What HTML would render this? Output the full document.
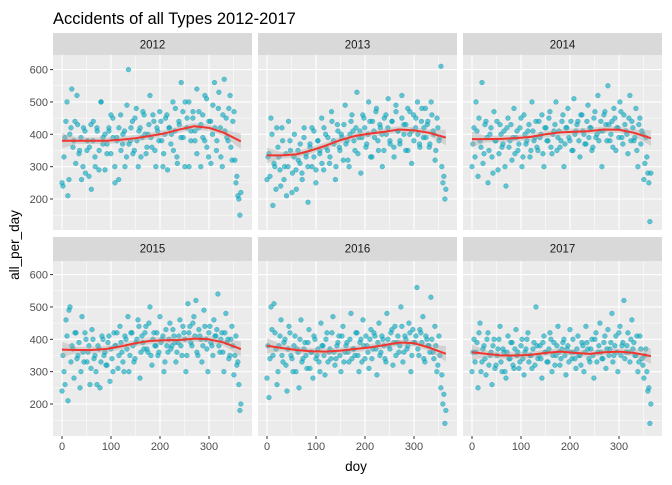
<!DOCTYPE html>
<html><head><meta charset="utf-8">
<style>
body{margin:0;background:#fff;}
svg text{font-family:"Liberation Sans",Arial,sans-serif;}
</style></head>
<body>
<svg id="chart" width="672" height="480" xmlns="http://www.w3.org/2000/svg">
<rect width="672" height="480" fill="#fff"/>
<text x="53" y="24" font-size="16.5" fill="#000">Accidents of all Types 2012-2017</text>
<text x="356" y="471" font-size="13.5" text-anchor="middle" fill="#000">doy</text>
<text transform="translate(19,245) rotate(-90)" font-size="13.5" text-anchor="middle" fill="#000">all_per_day</text>
<g id="panels"></g>
</svg>
<script>
const years = ["2012","2013","2014","2015","2016","2017"];
const pts2012 = [250,330,440,210,400,540,380,310,430,350,260,420,280,380,360,230,440,300,410,350,500,390,290,370,420,340,450,300,390,260,460,370,410,330,600,380,440,350,480,300,420,390,460,340,400,520,360,440,300,410,470,380,340,450,290,420,400,350,480,310,430,560,390,500,450,300,410,470,380,540,420,300,460,380,510,330,440,400,560,350,480,420,300,570,450,380,520,320,470,250,210,150];
const ptsB2012 = [240,390,500,260,420,360,440,520,340,390,300,410,350,270,430,380,330,420,290,500,370,400,340,410,460,390,250,380,420,350,400,300,490,370,420,340,450,380,410,330,470,400,360,430,390,460,350,420,380,440,300,400,460,420,370,500,410,330,440,390,470,300,420,500,380,450,410,340,470,430,390,520,360,440,310,490,420,380,530,330,460,410,390,480,360,440,320,270,200,220];
const pts2013 = [260,340,450,180,300,420,330,240,380,300,210,440,350,280,400,230,320,370,260,420,330,190,360,300,410,250,380,340,450,290,400,350,310,470,380,260,430,360,400,320,490,380,300,440,410,350,530,390,280,460,420,370,500,330,440,390,480,350,420,300,450,400,510,370,440,330,470,410,380,520,430,350,480,400,310,460,420,500,370,440,390,480,430,360,500,410,320,450,380,610,250,200];
const ptsB2013 = [330,270,400,310,230,360,290,420,260,340,300,380,220,330,290,350,310,280,390,340,300,370,420,330,290,380,350,310,420,360,390,330,440,370,300,410,350,390,430,370,320,400,460,380,420,340,410,390,450,360,400,440,330,410,470,380,430,400,350,460,420,380,440,360,490,410,370,450,400,430,350,470,410,380,450,400,360,480,420,390,440,370,460,400,350,420,390,300,270,230];
const pts2014 = [300,420,500,270,380,560,340,440,250,400,330,470,380,290,430,360,410,240,450,380,320,480,390,350,420,300,460,370,410,330,500,380,440,350,390,460,300,420,380,470,340,410,500,390,360,440,300,420,480,380,350,510,410,440,330,460,400,370,490,420,350,450,390,520,410,300,460,430,550,380,440,480,350,420,500,390,460,410,340,520,440,380,480,300,450,410,260,390,280,130];
const ptsB2014 = [370,330,410,450,360,310,430,390,350,420,280,380,440,340,400,370,300,420,360,430,390,340,410,370,450,330,400,380,430,350,410,390,360,440,400,340,420,380,450,360,400,430,350,410,380,460,370,420,390,440,350,400,430,380,460,410,370,440,390,420,360,470,400,380,440,410,470,380,430,400,360,450,420,390,470,370,430,400,450,380,420,390,350,430,370,400,310,330,250,280];
const pts2015 = [240,300,460,210,500,380,280,420,350,250,470,330,400,360,260,430,340,300,380,250,410,350,320,390,270,340,420,380,310,440,360,300,400,470,350,420,330,390,460,280,410,370,440,360,500,320,420,380,350,470,400,300,430,360,450,380,410,330,390,460,350,420,300,510,440,380,470,520,350,410,330,490,400,300,440,380,460,410,540,360,420,300,480,400,350,440,290,410,330,180];
const ptsB2015 = [350,260,410,490,330,370,420,340,390,300,360,420,330,380,310,400,350,260,370,330,400,360,320,410,370,300,380,420,350,390,330,410,370,300,420,380,340,400,440,360,390,420,370,450,350,400,380,420,360,390,410,330,380,400,370,430,390,360,410,380,440,400,350,420,390,450,410,360,430,400,380,440,370,420,390,350,410,430,380,400,360,420,390,340,400,380,350,320,260,200];
const pts2016 = [280,220,500,350,420,260,380,460,330,400,240,440,350,300,410,370,250,460,340,390,310,430,360,280,400,350,330,450,380,290,420,360,340,470,320,380,410,300,440,360,390,330,480,370,350,420,300,400,460,340,380,310,430,370,410,290,450,360,400,340,480,380,420,320,440,390,360,500,330,410,370,450,300,430,390,560,350,420,470,330,400,380,530,360,440,300,410,250,200,140];
const ptsB2016 = [380,340,430,510,370,300,410,350,390,320,370,420,340,380,300,360,400,330,370,350,390,310,360,410,340,370,300,380,350,400,330,370,420,360,340,390,350,410,330,380,360,400,340,370,420,350,390,330,380,410,360,400,340,420,370,390,350,410,380,330,400,370,430,390,350,410,380,440,360,400,380,420,350,390,410,370,430,390,340,410,380,360,400,340,380,320,350,290,230,180];
const pts2017 = [300,400,360,250,450,330,380,290,420,350,260,400,320,370,440,300,360,280,410,340,390,310,430,360,330,400,290,370,420,350,310,390,500,340,380,280,410,360,330,420,300,390,350,440,320,370,400,290,380,430,340,360,310,410,350,390,300,440,370,330,400,280,420,360,450,340,390,310,430,370,480,350,410,300,440,380,520,360,420,330,460,390,350,300,410,340,280,370,240,140];
const ptsB2017 = [360,330,390,420,300,370,340,400,320,360,380,310,350,400,330,370,300,360,340,390,320,370,350,310,380,340,360,400,330,350,370,320,380,350,340,390,360,330,370,400,350,320,380,360,340,390,350,370,330,360,400,340,370,350,320,380,360,390,340,370,350,400,330,380,360,340,410,370,350,390,330,380,360,420,350,390,340,380,360,400,370,350,410,330,370,320,350,300,250,200];
const smoothDays = [0,30,60,90,120,150,180,210,240,270,300,330,365];
const sm2012 = [380,380,380,380,383,388,395,403,415,425,420,405,378];
const sm2013 = [335,335,338,350,365,382,395,402,408,415,412,405,390];
const sm2014 = [385,385,386,388,392,400,406,408,410,415,414,405,388];
const sm2015 = [368,367,367,370,378,388,395,397,398,402,400,390,370];
const sm2016 = [380,373,367,363,362,365,370,375,382,390,388,375,355];
const sm2017 = [360,355,350,350,352,358,362,358,355,360,362,358,348];
const xTicks = [0,100,200,300];
const yTicks = [200,300,400,500,600];
const allPts = [pts2012,pts2013,pts2014,pts2015,pts2016,pts2017];
const allPtsB = [ptsB2012,ptsB2013,ptsB2014,ptsB2015,ptsB2016,ptsB2017];
const allSm = [sm2012,sm2013,sm2014,sm2015,sm2016,sm2017];

const NS = "http://www.w3.org/2000/svg";
const g = document.getElementById("panels");
function mk(tag, attrs, parent){const e=document.createElementNS(NS,tag);for(const k in attrs)e.setAttribute(k,attrs[k]);parent.appendChild(e);return e;}
const panelX=[53,258,463], panelTop=[55,261], stripTop=[33,237], PW=199, PH=175;
for(let p=0;p<6;p++){
  const col=p%3,row=Math.floor(p/3);
  const x0=panelX[col], y0=panelTop[row];
  const xs=d=>x0+9+d*0.49;
  const ys=v=>(row===0?199:404)-(v-200)*0.3235;
  const pg=mk("g",{},g);
  
  
  const strip=mk("rect",{x:x0,y:stripTop[row],width:PW,height:y0-stripTop[row],fill:"#d9d9d9"},pg);
  
  
  const st=mk("text",{x:x0+PW/2,y:stripTop[row]+15.5,"font-size":"11.5","text-anchor":"middle",fill:"#1a1a1a"},pg);
  st.textContent=years[p];
  
  
  const bg=mk("rect",{x:x0,y:y0,width:PW,height:PH,fill:"#ebebeb"},pg);
  
  
  for(let v=150;v<=650;v+=100){const y=ys(v);if(y>y0&&y<y0+PH)mk("line",{x1:x0,x2:x0+PW,y1:y,y2:y,stroke:"#fff","stroke-width":0.5},pg);}
  for(let d=50;d<=350;d+=100){mk("line",{x1:xs(d),x2:xs(d),y1:y0,y2:y0+PH,stroke:"#fff","stroke-width":0.5},pg);}
  yTicks.forEach(v=>{const y=ys(v);const l=mk("line",{x1:x0,x2:x0+PW,y1:y,y2:y,stroke:"#fff","stroke-width":1.1},pg);
    
    if(col===0){mk("line",{x1:x0-3,x2:x0,y1:y,y2:y,stroke:"#333"},pg);
      const t=mk("text",{x:x0-5,y:y+4,"font-size":"11","text-anchor":"end",fill:"#4d4d4d"},pg);t.textContent=v;
      }});
  xTicks.forEach(d=>{const x=xs(d);const l=mk("line",{x1:x,x2:x,y1:y0,y2:y0+PH,stroke:"#fff","stroke-width":1.1},pg);
    
    if(row===1){mk("line",{x1:x,x2:x,y1:y0+PH,y2:y0+PH+3,stroke:"#333"},pg);
      const t=mk("text",{x:x,y:y0+PH+14,"font-size":"11","text-anchor":"middle",fill:"#4d4d4d"},pg);t.textContent=d;
      }});
  [[allPts[p],0],[allPtsB[p],2]].forEach(([pts,off])=>{
    const n=pts.length;
    pts.forEach((v,i)=>{const d=Math.min(365,off+i*363/(n-1));
      const c=mk("circle",{cx:xs(d),cy:ys(v),r:2.4,fill:"#00a9c0","fill-opacity":0.6,stroke:"#1a8fa5","stroke-opacity":0.6,"stroke-width":0.5},pg);
      
      });
  });
  const sm=allSm[p];
  let up="",dn="";
  smoothDays.forEach((d,i)=>{const w=(i===0||i===smoothDays.length-1)?24:10;up+=(i?"L":"M")+xs(d)+","+ys(sm[i]+w);});
  for(let i=smoothDays.length-1;i>=0;i--){const w=(i===0||i===smoothDays.length-1)?24:10;dn+="L"+xs(smoothDays[i])+","+ys(sm[i]-w);}
  const rib=mk("path",{d:up+dn+"Z",fill:"#aaa","fill-opacity":0.4},pg);
  
  
  const ln=mk("polyline",{points:smoothDays.map((d,i)=>xs(d)+","+ys(sm[i])).join(" "),fill:"none",stroke:"#f0362f","stroke-width":2,"stroke-linejoin":"round"},pg);
  
  
}
</script>
</body></html>
